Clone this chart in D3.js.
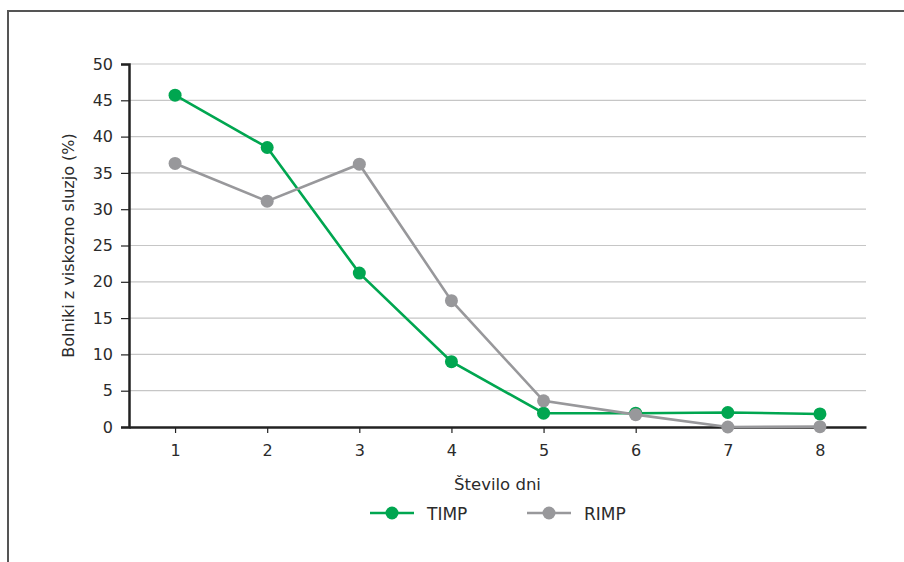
<!DOCTYPE html>
<html><head><meta charset="utf-8">
<script src="https://cdn.jsdelivr.net/npm/d3@7/dist/d3.min.js"></script>
<style>body{margin:0;background:#fff}svg{display:block}text{font-family:"DejaVu Sans",sans-serif;fill:#2b2b2b}</style>
</head><body><svg id="c" width="904" height="562"></svg>
<script>
const days = [1,2,3,4,5,6,7,8];
const timp = [45.7,38.5,21.2,9.0,1.9,1.9,2.0,1.8];
const rimp = [36.3,31.1,36.2,17.4,3.6,1.7,0,0.05];
const yTicks = [0,5,10,15,20,25,30,35,40,45,50];
const seriesNames = ["TIMP","RIMP"];
const colors = ["#00a650","#98989b"];
const xTitle = "Število dni";
const yTitle = "Bolniki z viskozno sluzjo (%)";

const svg = d3.select("#c");
svg.append("path").attr("d","M8,562V11H904").attr("fill","none").attr("stroke","#555").attr("stroke-width",2);

const L=129,R=866,T=64,B=427;
const x = d3.scalePoint().domain(days).range([L,R]).padding(0.5);
const y = d3.scaleLinear().domain([0,50]).range([B,T]);
const F = "DejaVu Sans, sans-serif";

svg.append("g").selectAll("line").data(yTicks.filter(d=>d>0)).join("line")
  .attr("x1",L).attr("x2",R).attr("y1",d=>y(d)).attr("y2",d=>y(d))
  .attr("stroke","#c6c6c6").attr("stroke-width",1.2);

const ya = svg.append("g").attr("transform",`translate(${L},0)`)
  .call(d3.axisLeft(y).tickValues(yTicks).tickSize(8).tickPadding(8));
ya.select(".domain").attr("stroke","#222").attr("stroke-width",2.5);
ya.selectAll(".tick line").attr("stroke","#222").attr("stroke-width",1.2);
ya.selectAll("text").attr("font-size",16).attr("fill","#2b2b2b").attr("font-family",F);

const xa = svg.append("g").attr("transform",`translate(0,${B})`)
  .call(d3.axisBottom(x).tickSize(6).tickPadding(12).tickSizeOuter(0));
xa.select(".domain").attr("stroke","#222").attr("stroke-width",2.5);
xa.selectAll(".tick line").attr("stroke","#222").attr("stroke-width",1.2);
xa.selectAll("text").attr("font-size",16).attr("fill","#2b2b2b").attr("font-family",F);

svg.append("text").attr("x",(L+R)/2).attr("y",490).attr("text-anchor","middle").attr("font-size",16.5).text(xTitle);
svg.append("text").attr("transform",`translate(74,${(T+B)/2}) rotate(-90)`).attr("text-anchor","middle").attr("font-size",16).text(yTitle);

const line = d3.line().x((d,i)=>x(days[i])).y(d=>y(d));
[[timp,0],[rimp,1]].forEach(([s,k])=>{
  svg.append("path").datum(s).attr("d",line).attr("fill","none").attr("stroke",colors[k]).attr("stroke-width",2.6);
  svg.append("g").selectAll("circle").data(s).join("circle")
    .attr("cx",(d,i)=>x(days[i])).attr("cy",d=>y(d)).attr("r",6.5).attr("fill",colors[k]);
});

const legX=[370,527];
seriesNames.forEach((n,k)=>{
  const g=svg.append("g").attr("transform",`translate(${legX[k]},513)`);
  g.append("line").attr("x1",0).attr("x2",44).attr("stroke",colors[k]).attr("stroke-width",2.6);
  g.append("circle").attr("cx",22).attr("r",6.5).attr("fill",colors[k]);
  g.append("text").attr("x",57).attr("y",6.5).attr("font-size",17).text(n);
});
</script></body></html>
